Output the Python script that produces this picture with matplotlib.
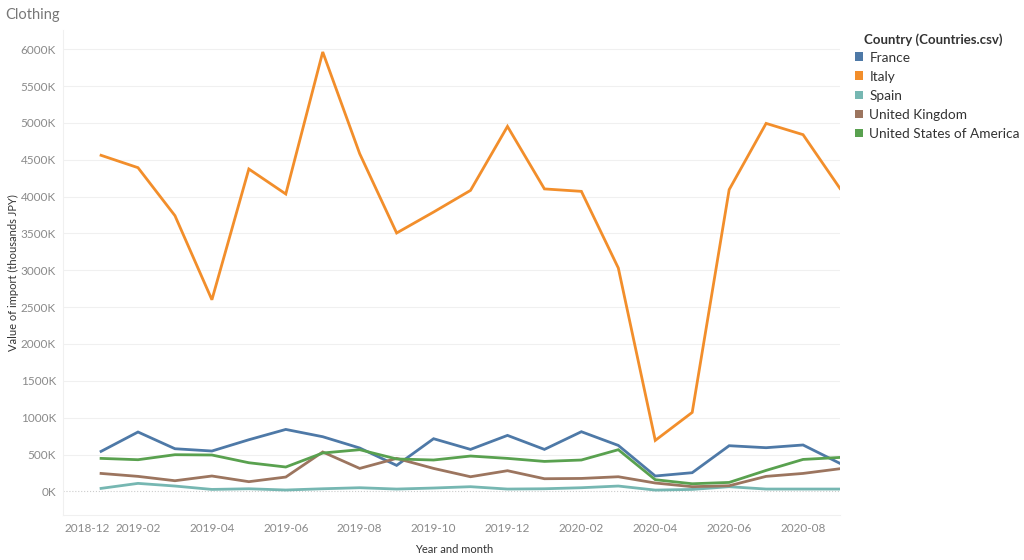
import numpy as np
import matplotlib.pyplot as plt
from matplotlib.patches import Patch

plt.rcParams['font.family'] = ['Lato', 'DejaVu Sans']

months = ['2019-01', '2019-02', '2019-03', '2019-04', '2019-05', '2019-06', '2019-07',
          '2019-08', '2019-09', '2019-10', '2019-11', '2019-12', '2020-01', '2020-02',
          '2020-03', '2020-04', '2020-05', '2020-06', '2020-07', '2020-08', '2020-09']
tick_labels = ['2018-12', '2019-02', '2019-04', '2019-06', '2019-08', '2019-10',
               '2019-12', '2020-02', '2020-04', '2020-06', '2020-08']

# values in thousands of JPY (axis shown as K)
france = [543, 806, 579, 548, 701, 841, 742, 589, 353, 715, 570, 760,
          570, 810, 624, 209, 254, 620, 593, 630, 380]
italy = [4560, 4392, 3741, 2600, 4374, 4035, 5962, 4582, 3506, 3790, 4084, 4952,
         4104, 4071, 3031, 692, 1072, 4094, 4993, 4840, 4110]
spain = [41, 109, 73, 27, 36, 19, 36, 50, 32, 46, 64, 32,
         36, 50, 73, 18, 27, 64, 32, 32, 32]
uk = [244, 204, 145, 209, 132, 195, 535, 312, 448, 312, 199, 281,
      172, 176, 199, 114, 64, 77, 204, 244, 308]
usa = [448, 430, 498, 494, 389, 331, 521, 566, 440, 426, 480, 448,
       407, 426, 566, 159, 104, 122, 285, 434, 461]

series = [('France', france, '#4e79a7'),
          ('Italy', italy, '#f28e2b'),
          ('Spain', spain, '#76b7b2'),
          ('United Kingdom', uk, '#9c755f'),
          ('United States of America', usa, '#59a14f')]

fig = plt.figure(figsize=(10.24, 5.6), dpi=100)
ax = fig.add_axes([63 / 1024, 45 / 560, 777 / 1024, 485 / 560])

# month index: 0 = 2018-12
x = np.arange(1, len(months) + 1)
for name, vals, col in series:
    ax.plot(x, vals, color=col, lw=2, solid_joinstyle='miter')

ax.set_xlim(-0.03, 21)
ax.set_ylim(-320, 6260)

ax.set_xticks(np.arange(0, 21, 2))
ax.set_xticklabels(tick_labels)
ax.get_xticklabels()[0].set_horizontalalignment('left')

yt = np.arange(0, 6001, 500)
ax.set_yticks(yt)
ax.set_yticklabels([f'{v}K' for v in yt])

ax.tick_params(axis='both', length=0, labelsize=8.5, colors='#8a8a8a', pad=5)
ax.tick_params(axis='x', pad=6)

for v in yt:
    if v == 0:
        ax.axhline(0, color='#cccccc', lw=0.8, ls=':', zorder=0)
    else:
        ax.axhline(v, color='#f0f0f0', lw=0.8, zorder=0)

for s in ['top', 'right']:
    ax.spines[s].set_visible(False)
ax.spines['left'].set_color('#f0f0f0')
ax.spines['bottom'].set_color('#f0f0f0')

ax.set_ylabel('Value of import (thousands JPY)', fontsize=8, color='#333333')
ax.yaxis.set_label_coords(-44 / 777, 0.5)
ax.set_xlabel('Year and month', fontsize=8, color='#333333')
ax.xaxis.set_label_coords(0.504, -0.06)

fig.text(5 / 1024, 1 - 15 / 560, 'Clothing', fontsize=10.5, color='#777777', va='center')

fig.text(864 / 1024, 1 - 40 / 560, 'Country (Countries.csv)', fontsize=9.5,
         fontweight='bold', color='#333333', va='center')
handles = [Patch(facecolor=c, edgecolor='none') for _, _, c in series]
leg = fig.legend(handles, [n for n, _, _ in series],
                 loc='upper left', bbox_to_anchor=(855 / 1024, 1 - 51.5 / 560),
                 frameon=False, fontsize=9.8,
                 handlelength=0.6, handleheight=0.6, handletextpad=0.45,
                 labelspacing=0.52, borderaxespad=0, borderpad=0)
for t in leg.get_texts():
    t.set_color('#333333')

fig.savefig('out.png', dpi=100)
